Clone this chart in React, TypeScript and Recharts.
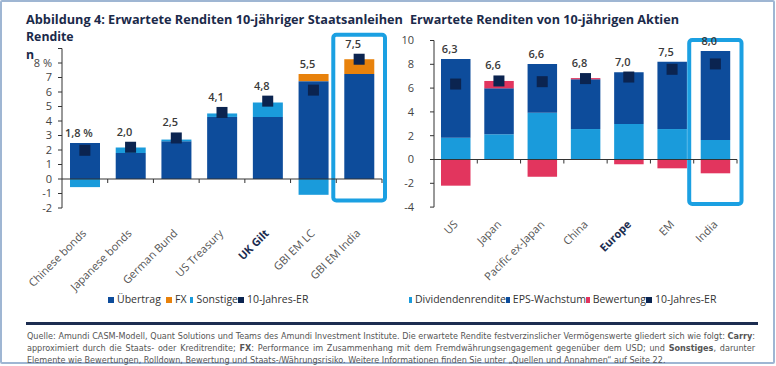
import React from 'react'
import { ComposedChart, Bar, Line, XAxis, YAxis, ReferenceLine, ReferenceArea, LabelList } from 'recharts'

// Staatsanleihen (left panel)
const bondCategories = ['Chinese bonds', 'Japanese bonds', 'German Bund', 'US Treasury', 'UK Gilt', 'GBI EM LC', 'GBI EM India']
const bondCarry = [2.48, 1.79, 2.6, 4.28, 4.28, 6.75, 7.24]
const bondFx = [0, 0, 0, 0, 0, 0.49, 1.02]
const bondOther = [-0.56, 0.38, 0.12, 0.24, 1.0, -1.09, 0]
const bondEr = [1.98, 2.19, 2.83, 4.59, 5.37, 6.13, 8.26]
const bondLabels = ['1,8 %', '2,0', '2,5', '4,1', '4,8', '5,5', '7,5']
const bondTicks = [-2, -1, 0, 1, 2, 3, 4, 5, 6, 7, 8, 9]

// Aktien (right panel)
const equityCategories = ['US', 'Japan', 'Pacific ex-Japan', 'China', 'Europe', 'EM', 'India']
const equityDividend = [1.83, 2.12, 3.93, 2.56, 2.98, 2.56, 1.64]
const equityEps = [6.62, 3.86, 4.1, 4.18, 4.35, 5.66, 7.48]
const equityValuation = [-2.2, 0.62, -1.45, 0.1, -0.4, -0.74, -1.16]
const equityEr = [6.34, 6.6, 6.54, 6.8, 6.93, 7.58, 8.03]
const equityLabels = ['6,3', '6,6', '6,6', '6,8', '7,0', '7,5', '8,0']
const equityTicks = [-4, -2, 0, 2, 4, 6, 8, 10]

const boldCategories = ['UK Gilt', 'Europe']

const DARK = '#0d4c9b'
const LIGHT = '#1a9bdb'
const ORANGE = '#e8820c'
const RED = '#e2355e'
const NAVY = '#0b2450'
const HIGHLIGHT = '#1ba0e2'
const TITLE = '#1b2a4a'
const FONT = '"Open Sans", "Noto Sans", sans-serif'

const bondData = bondCategories.map((name, i) => ({
  name,
  carry: bondCarry[i],
  other: bondOther[i],
  fx: bondFx[i],
  er: bondEr[i],
  label: bondLabels[i],
  labelTop: Math.max(bondCarry[i] + Math.max(bondOther[i], 0) + bondFx[i], bondEr[i] + 0.38),
}))

const equityData = equityCategories.map((name, i) => ({
  name,
  dividend: equityDividend[i],
  eps: equityEps[i],
  valuation: equityValuation[i],
  er: equityEr[i],
  label: equityLabels[i],
  labelTop: Math.max(equityDividend[i] + equityEps[i] + Math.max(equityValuation[i], 0), equityEr[i] + 0.46),
}))

const SquareDot = (props: any) => {
  const { cx, cy } = props
  if (cx == null || cy == null) return null
  return <rect x={cx - 5.5} y={cy - 5.5} width={11} height={11} fill={NAVY} />
}

const topLabel = (props: any) => {
  const { x, y, value } = props
  return (
    <text x={x - 6} y={y - 6} textAnchor="middle" fontSize={11} fontWeight={600} fill="#3a3a3a" fontFamily={FONT}>
      {value}
    </text>
  )
}

const makeTick = (dx: number, dy: number) => (props: any) => {
  const { x, y, payload } = props
  const bold = boldCategories.includes(payload.value)
  const tx = x + dx
  const ty = y + dy
  return (
    <text
      x={tx}
      y={ty}
      transform={`rotate(-45, ${tx}, ${ty})`}
      textAnchor="end"
      fontSize={11}
      fontFamily={FONT}
      fontWeight={bold ? 700 : 400}
      fill={bold ? '#1c2d50' : '#555'}
    >
      {payload.value}
    </text>
  )
}

const zeroAxis = (count: number) => (props: any) => {
  const { x1, x2, y1 } = props
  const marks = []
  for (let i = 1; i <= count; i++) {
    const x = x1 + ((x2 - x1) * i) / count
    marks.push(<line key={i} x1={x} x2={x} y1={y1} y2={y1 + 4} stroke="#333" />)
  }
  return (
    <g>
      <line x1={x1} x2={x2} y1={y1} y2={y1} stroke="#333" />
      {marks}
    </g>
  )
}

const highlightBox = (pad: number) => (props: any) => {
  const { x, y, width, height } = props
  return <rect x={x - pad} y={y} width={width + pad * 2} height={height} rx={3} fill="none" stroke={HIGHLIGHT} strokeWidth={4} />
}

const yTick = { fontSize: 11, fill: '#444', fontFamily: FONT }

const Legend = ({ items, left }: { items: { label: string; color: string; w: number }[]; left: number }) => (
  <div style={{ position: 'absolute', left, top: 292, display: 'flex', fontFamily: FONT, fontSize: 10.5, color: '#333', whiteSpace: 'nowrap' }}>
    {items.map(it => (
      <div key={it.label} style={{ width: it.w, display: 'flex', alignItems: 'center' }}>
        <span style={{ width: 6, height: 6, background: it.color, display: 'inline-block', marginRight: 3, marginTop: 2 }} />
        <span>{it.label}</span>
      </div>
    ))}
  </div>
)

export default function App() {
  return (
    <div style={{ position: 'absolute', left: 0, top: 0, width: 776, height: 366, background: '#fff', fontFamily: FONT }}>
      <div style={{ position: 'absolute', left: 0, top: 0, width: 771, height: 360, border: '2px solid #9fb6d3', borderRadius: 2 }} />

      <svg width={776} height={64} style={{ position: 'absolute', left: 0, top: 0 }}>
        <g fontFamily={FONT} fontWeight={700} fill={TITLE} fontSize={12.3}>
          <text x={26} y={24} textLength={377} lengthAdjust="spacingAndGlyphs">
            Abbildung 4: Erwartete Renditen 10-jähriger Staatsanleihen
          </text>
          <text x={26} y={41}>Rendite</text>
          <text x={26} y={58.5}>n</text>
          <text x={410} y={24} fontSize={12.6} textLength={269} lengthAdjust="spacingAndGlyphs">
            Erwartete Renditen von 10-jährigen Aktien
          </text>
        </g>
      </svg>

      <div style={{ position: 'absolute', left: 0, top: 0 }}>
        <ComposedChart width={400} height={300} data={bondData} stackOffset="sign" margin={{ top: 48.5, right: 18, bottom: 12, left: 22 }}>
          <XAxis dataKey="name" height={80} axisLine={false} tickLine={false} tickSize={0} tickMargin={0} interval={0} tick={makeTick(2, 26)} />
          <YAxis width={40} domain={[-2, 9]} ticks={bondTicks} interval={0} tickSize={4} tickMargin={6} stroke="#333" tick={yTick}
            tickFormatter={(v: number) => (v === 9 ? '' : v === 8 ? '8 %' : String(v))} />
          <ReferenceArea x1="GBI EM India" x2="GBI EM India" y1={-1.48} y2={9.94} ifOverflow="visible" shape={highlightBox(3)} />
          <Bar dataKey="carry" stackId="a" fill={DARK} barSize={30} isAnimationActive={false} />
          <Bar dataKey="other" stackId="a" fill={LIGHT} barSize={30} isAnimationActive={false} />
          <Bar dataKey="fx" stackId="a" fill={ORANGE} barSize={30} isAnimationActive={false} />
          <ReferenceLine y={0} shape={zeroAxis(bondCategories.length)} />
          <Line dataKey="er" stroke="none" dot={<SquareDot />} activeDot={false} isAnimationActive={false} />
          <Line dataKey="labelTop" stroke="none" dot={false} activeDot={false} isAnimationActive={false}>
            <LabelList dataKey="label" content={topLabel} />
          </Line>
        </ComposedChart>
      </div>

      <div style={{ position: 'absolute', left: 390, top: 0 }}>
        <ComposedChart width={386} height={300} data={equityData} stackOffset="sign" margin={{ top: 40.5, right: 39, bottom: 12.9, left: 14 }}>
          <XAxis dataKey="name" height={80} axisLine={false} tickLine={false} tickSize={0} tickMargin={0} interval={0} tick={makeTick(3, 18)} />
          <YAxis width={30} domain={[-4, 10]} ticks={equityTicks} interval={0} tickSize={4} tickMargin={16} stroke="#333" tick={yTick} />
          <ReferenceArea x1="India" x2="India" y1={-3.74} y2={10.04} ifOverflow="visible" shape={highlightBox(4.5)} />
          <Bar dataKey="dividend" stackId="b" fill={LIGHT} barSize={29.5} isAnimationActive={false} />
          <Bar dataKey="eps" stackId="b" fill={DARK} barSize={29.5} isAnimationActive={false} />
          <Bar dataKey="valuation" stackId="b" fill={RED} barSize={29.5} isAnimationActive={false} />
          <ReferenceLine y={0} shape={zeroAxis(equityCategories.length)} />
          <Line dataKey="er" stroke="none" dot={<SquareDot />} activeDot={false} isAnimationActive={false} />
          <Line dataKey="labelTop" stroke="none" dot={false} activeDot={false} isAnimationActive={false}>
            <LabelList dataKey="label" content={topLabel} />
          </Line>
        </ComposedChart>
      </div>

      <Legend
        left={108}
        items={[
          { label: 'Übertrag', color: DARK, w: 58 },
          { label: 'FX', color: ORANGE, w: 24 },
          { label: 'Sonstige', color: LIGHT, w: 48 },
          { label: '10-Jahres-ER', color: NAVY, w: 80 },
        ]}
      />
      <Legend
        left={409}
        items={[
          { label: 'Dividendenrendite', color: LIGHT, w: 97 },
          { label: 'EPS-Wachstum', color: DARK, w: 80 },
          { label: 'Bewertung', color: RED, w: 60 },
          { label: '10-Jahres-ER', color: NAVY, w: 80 },
        ]}
      />

      <div style={{ position: 'absolute', left: 26, top: 322, width: 732, height: 3, background: '#1c2d50' }} />
      <div style={{ position: 'absolute', left: 27, top: 331, width: 728, fontFamily: '"Liberation Sans Narrow", "DejaVu Sans Condensed", sans-serif', fontSize: 9, lineHeight: '11.8px', color: '#555' }}>
        <div style={{ textAlign: 'justify', textAlignLast: 'justify', whiteSpace: 'nowrap' }}>
          Quelle: Amundi CASM-Modell, Quant Solutions und Teams des Amundi Investment Institute. Die erwartete Rendite festverzinslicher Vermögenswerte gliedert sich wie folgt: <b>Carry</b>:
        </div>
        <div style={{ textAlign: 'justify', textAlignLast: 'justify', whiteSpace: 'nowrap' }}>
          approximiert durch die Staats- oder Kreditrendite; <b>FX</b>: Performance im Zusammenhang mit dem Fremdwährungsengagement gegenüber dem USD; und <b>Sonstiges</b>, darunter
        </div>
        <div style={{ whiteSpace: 'nowrap' }}>
          Elemente wie Bewertungen, Rolldown, Bewertung und Staats-/Währungsrisiko. Weitere Informationen finden Sie unter „Quellen und Annahmen“ auf Seite 22.
        </div>
      </div>
    </div>
  )
}
